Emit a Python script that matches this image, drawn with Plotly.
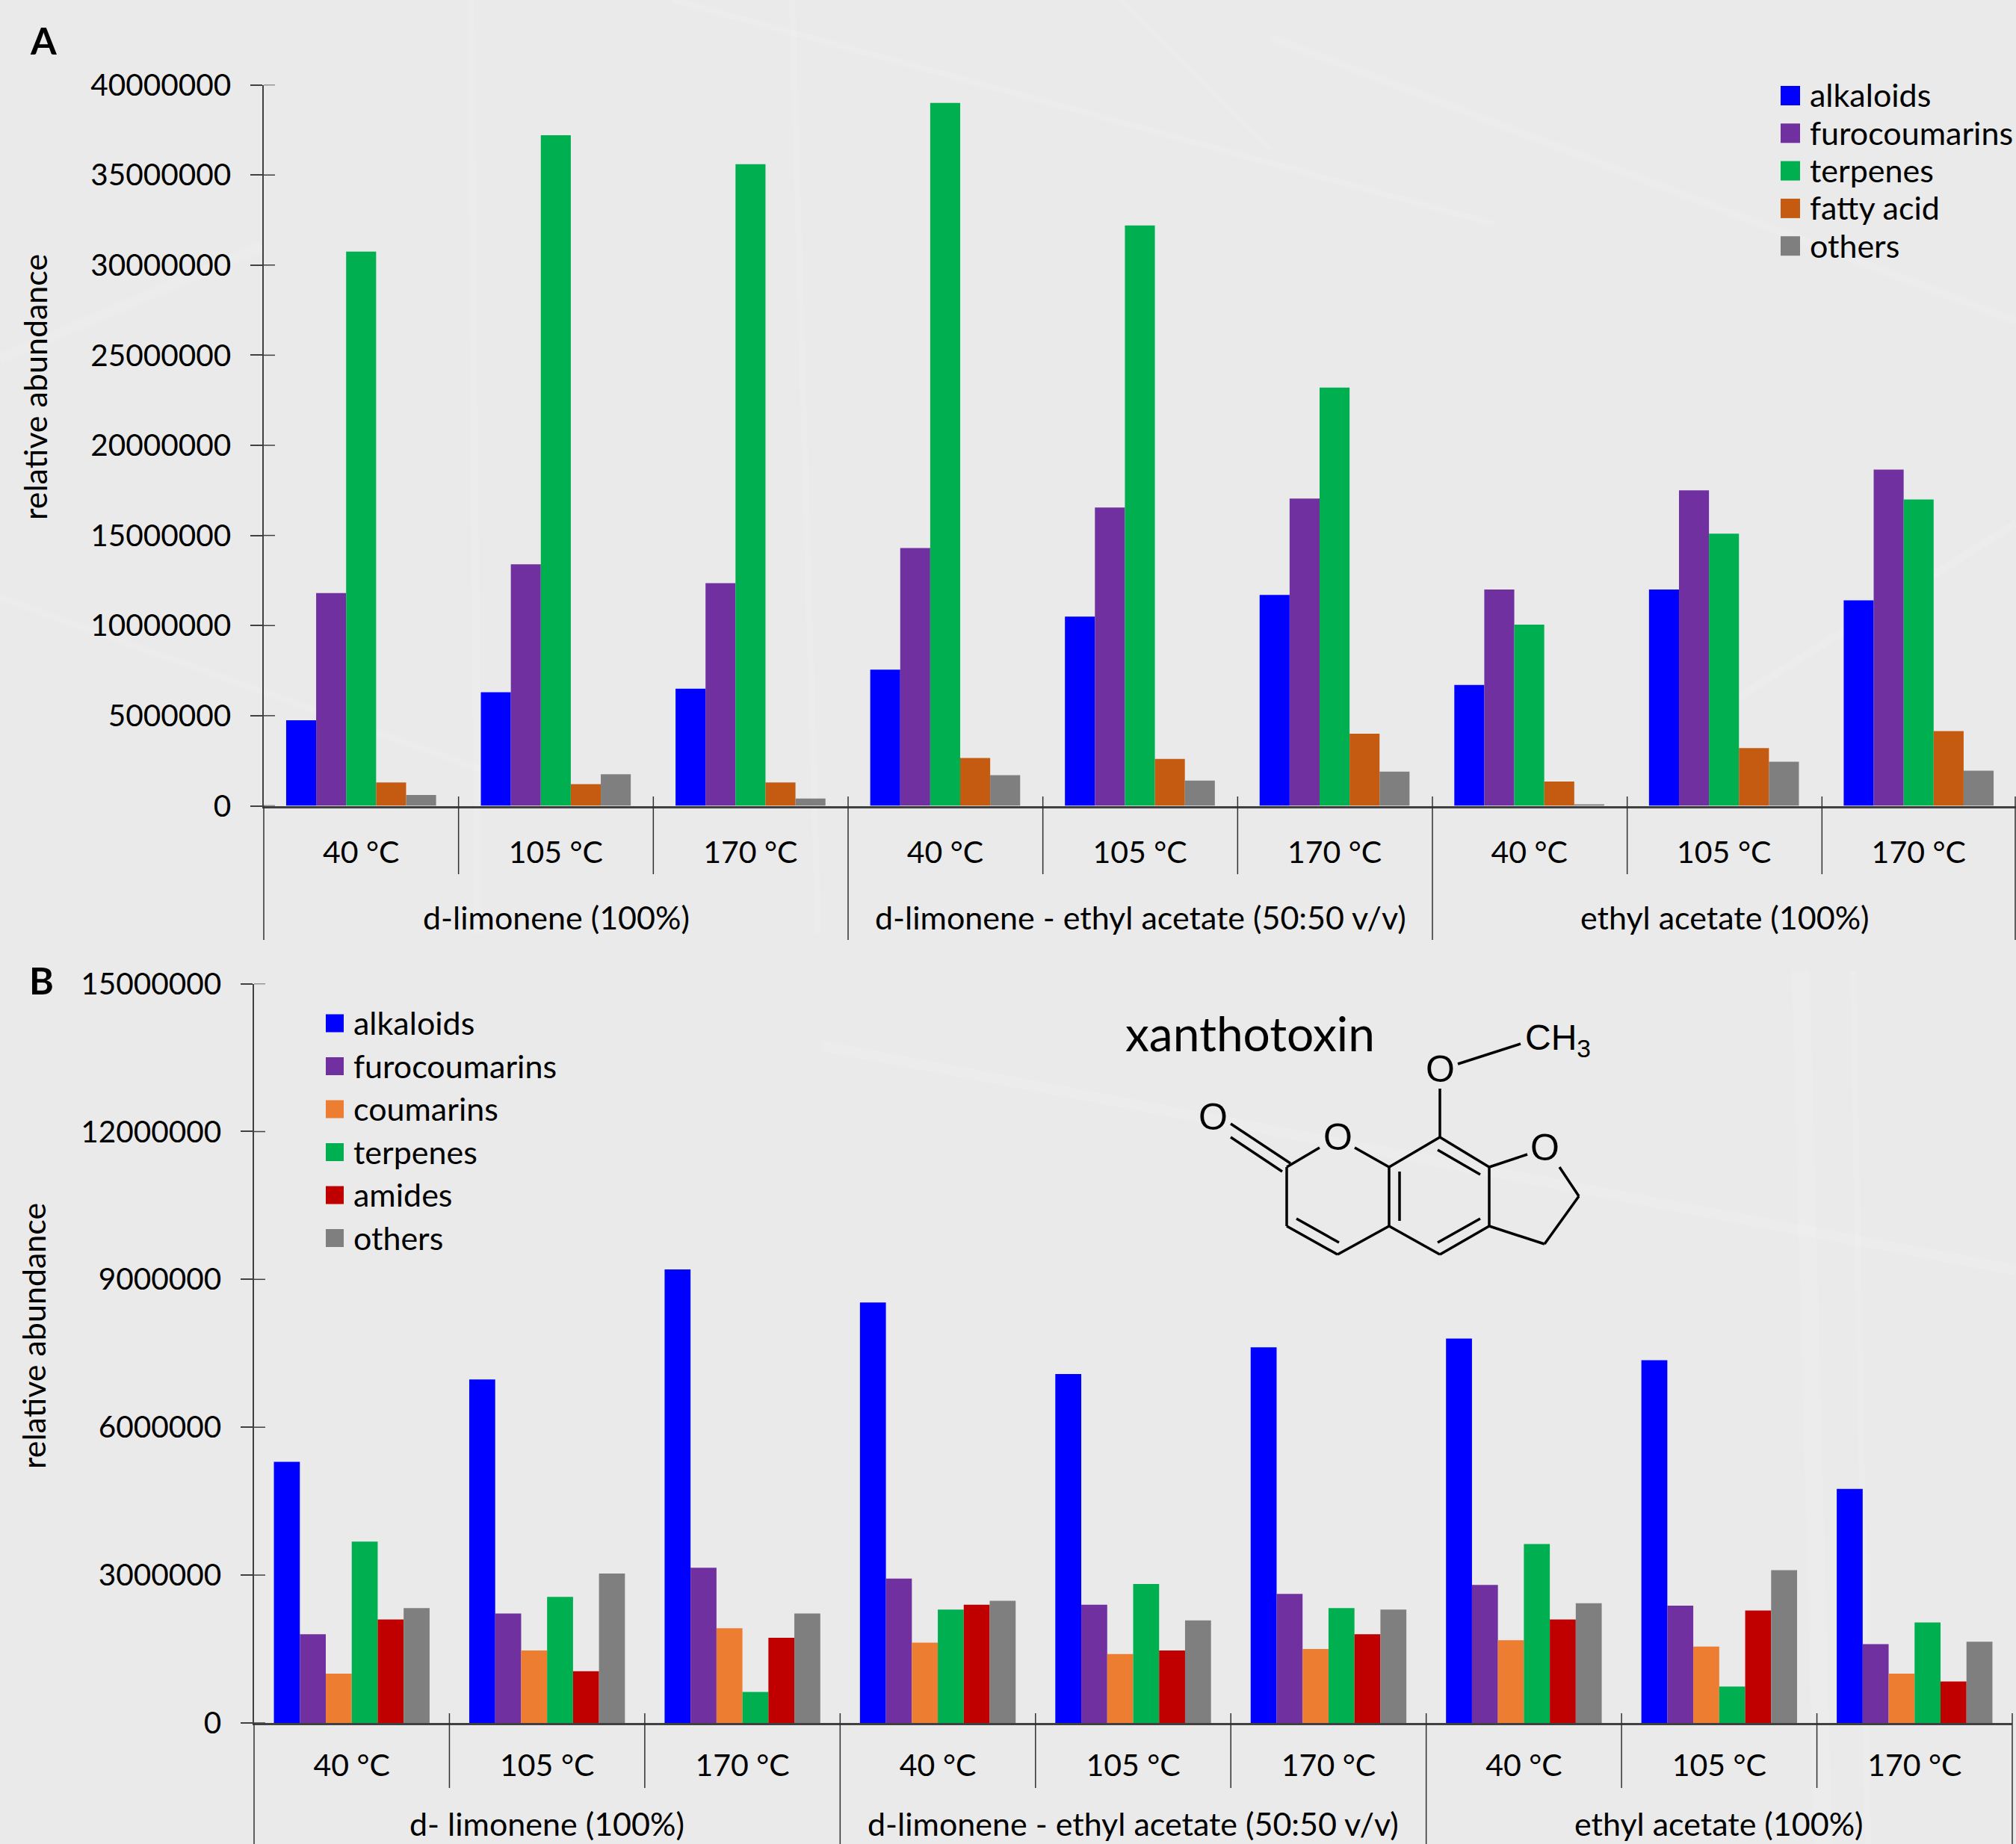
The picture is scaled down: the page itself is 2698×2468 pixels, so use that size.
import plotly.graph_objects as go

W, H = 2698, 2468
FONT = "Lato"
TEXT = "#000000"
AXIS = "#404040"
BG = "#EAEAEA"

temps = ["40 °C", "105 °C", "170 °C"] * 3
positions = list(range(9))
groups_a = ["d-limonene (100%)", "d-limonene - ethyl acetate (50:50 v/v)", "ethyl acetate (100%)"]
groups_b = ["d- limonene (100%)", "d-limonene - ethyl acetate (50:50 v/v)", "ethyl acetate (100%)"]

# Panel A
a_alkaloids = [4750000, 6300000, 6500000, 7550000, 10500000, 11700000, 6700000, 12000000, 11400000]
a_furocoumarins = [11800000, 13400000, 12350000, 14300000, 16550000, 17050000, 12000000, 17500000, 18650000]
a_terpenes = [30750000, 37200000, 35600000, 39000000, 32200000, 23200000, 10050000, 15100000, 17000000]
a_fatty_acid = [1300000, 1200000, 1300000, 2650000, 2600000, 4000000, 1350000, 3200000, 4150000]
a_others = [600000, 1750000, 400000, 1700000, 1400000, 1900000, 50000, 2450000, 1950000]

# Panel B
b_alkaloids = [5300000, 6970000, 9200000, 8530000, 7080000, 7620000, 7800000, 7360000, 4750000]
b_furocoumarins = [1800000, 2220000, 3150000, 2930000, 2400000, 2620000, 2800000, 2380000, 1600000]
b_coumarins = [1000000, 1470000, 1920000, 1630000, 1400000, 1500000, 1680000, 1550000, 1000000]
b_terpenes = [3680000, 2560000, 630000, 2300000, 2820000, 2330000, 3630000, 740000, 2040000]
b_amides = [2100000, 1050000, 1730000, 2400000, 1470000, 1800000, 2100000, 2280000, 840000]
b_others = [2330000, 3030000, 2220000, 2480000, 2080000, 2300000, 2430000, 3100000, 1650000]

series_a = [("alkaloids", a_alkaloids, "#0000FF"), ("furocoumarins", a_furocoumarins, "#7030A0"),
            ("terpenes", a_terpenes, "#00B050"), ("fatty acid", a_fatty_acid, "#C55A11"),
            ("others", a_others, "#7F7F7F")]
series_b = [("alkaloids", b_alkaloids, "#0000FF"), ("furocoumarins", b_furocoumarins, "#7030A0"),
            ("coumarins", b_coumarins, "#ED7D31"), ("terpenes", b_terpenes, "#00B050"),
            ("amides", b_amides, "#C00000"), ("others", b_others, "#7F7F7F")]

ticks_a = list(range(0, 40000001, 5000000))
ticks_b = list(range(0, 15000001, 3000000))


def px(x):
    return x / W


def py(y):
    return 1 - y / H


A = dict(left=353, right=2699, top=113.5, bottom=1078.5, ymax=40000000, fill=0.77,
         sep_top=1066, minor_bottom=1170, major_bottom=1258, group_y=1227, tick_x=24)
B = dict(left=340, right=2693, top=1316.5, bottom=2306, ymax=15000000, fill=0.797,
         sep_top=2293, minor_bottom=2393, major_bottom=2468, group_y=2440, tick_x=19)

FS_DIGIT = 40.5
FS_TEMP = 41
FS_TEXT = 43
TICK_Y = 18

fig = go.Figure()
shapes, annotations = [], []


def add_panel(series, axis_suffix, p):
    n = len(series)
    w = p["fill"] / n
    for k, (name, vals, color) in enumerate(series):
        fig.add_trace(go.Bar(x=positions, y=vals, name=name, marker=dict(color=color, line_width=0),
                             width=w, offset=-p["fill"] / 2 + k * w, showlegend=False,
                             xaxis="x" + axis_suffix, yaxis="y" + axis_suffix))


add_panel(series_a, "", A)
add_panel(series_b, "2", B)


def axes(p, tickvals, anchor):
    xa = dict(domain=[px(p["left"]), min(px(p["right"]), 1)], range=[-0.5, 8.5], tickmode="array", tickvals=positions,
              ticktext=temps, ticks="", ticklen=0, ticklabelstandoff=p["tick_x"], showgrid=False, zeroline=False,
              showline=True, linecolor=AXIS, linewidth=3, anchor=anchor[1], automargin=False,
              tickfont=dict(family=FONT, size=FS_TEMP, color=TEXT))
    ya = dict(domain=[py(p["bottom"]), py(p["top"])], range=[0, p["ymax"]], tickmode="array", tickvals=tickvals,
              ticktext=[str(t) for t in tickvals], ticks="outside", ticklen=16, tickcolor=AXIS, tickwidth=1.5,
              ticklabelstandoff=TICK_Y, showgrid=False, zeroline=False, showline=True, linecolor=AXIS, linewidth=1.5,
              anchor=anchor[0], automargin=False, tickfont=dict(family=FONT, size=FS_DIGIT, color=TEXT))
    return xa, ya


xa1, ya1 = axes(A, ticks_a, ("x", "y"))
xa2, ya2 = axes(B, ticks_b, ("x2", "y2"))


def line(x0, y0, x1, y1, color=AXIS, width=1.5, layer="above"):
    shapes.append(dict(type="line", xref="paper", yref="paper", x0=px(x0), x1=px(x1), y0=py(y0), y1=py(y1),
                       line=dict(color=color, width=width), layer=layer))


def text(s, x, y, size=FS_TEXT, anchor="center", angle=0, family=FONT, color=TEXT):
    annotations.append(dict(text=s, x=px(x), y=py(y), xref="paper", yref="paper", showarrow=False,
                            xanchor=anchor, yanchor="middle", textangle=angle,
                            font=dict(family=family, size=size, color=color)))


# Faint background streaks
streaks = [(630, 0, 640, 1250, 10), (1060, 0, 1095, 1250, 8), (1500, 0, 1700, 200, 6), (2410, 1300, 2440, 2468, 24),
           (0, 480, 350, 330, 14), (1700, 50, 2698, 430, 10), (900, 0, 2000, 300, 8), (0, 800, 700, 1050, 8),
           (2300, 950, 2698, 700, 10), (1100, 1400, 2698, 1700, 14), (2480, 1300, 2500, 2468, 8)]
for x0, y0, x1, y1, w in streaks:
    line(x0, y0, x1, y1, color="rgba(255,255,255,0.13)", width=w, layer="below")


def decorate(p, groups, ticks, ref):
    step = (p["right"] - p["left"]) / 9
    for i in range(10):
        x = min(p["left"] + i * step, W - 1)
        major = i % 3 == 0
        line(x, p["sep_top"] if i else p["bottom"], x, p["major_bottom"] if major else p["minor_bottom"], color="#303030")
    for j, g in enumerate(groups):
        text(g, p["left"] + (3 * j + 1.5) * step, p["group_y"])
    # inner half of the crossing y ticks
    for t in ticks:
        shapes.append(dict(type="line", xref="paper", yref=ref, x0=px(p["left"]), x1=px(p["left"] + 15), y0=t, y1=t,
                           line=dict(color=AXIS, width=1.5)))


decorate(A, groups_a, ticks_a, "y")
decorate(B, groups_b, ticks_b, "y2")

text("relative abundance", 46, 518, angle=-90)
text("relative\u00a0abundance", 44, 1788, angle=-90)
text("<b>A</b>", 58, 54, size=50)
text("<b>B</b>", 55, 1312, size=50)


def legend(series, sw_x, sw_size, text_x, y0, dy):
    for k, (name, _, color) in enumerate(series):
        y = y0 + k * dy
        shapes.append(dict(type="rect", xref="paper", yref="paper", x0=px(sw_x), x1=px(sw_x + sw_size),
                           y0=py(y - sw_size / 2), y1=py(y + sw_size / 2), fillcolor=color, line_width=0))
        text(name, text_x, y - 1, anchor="left")


legend(series_a, 2383, 26, 2420, 128, 50.3)
legend(series_b, 436, 24, 471, 1369.5, 57.5)

# Molecule drawing (xanthotoxin)
bonds = [((1722, 1562), (1722, 1641)), ((1722, 1641), (1790, 1679)), ((1735, 1631), (1792, 1663)),
         ((1790, 1679), (1859, 1641)), ((1859, 1641), (1859, 1562)), ((1873, 1634), (1873, 1568)),
         ((1859, 1562), (1813, 1536)), ((1766, 1536), (1722, 1562)), ((1727, 1557), (1647, 1504)),
         ((1716, 1568), (1647, 1522)), ((1859, 1562), (1927, 1522)), ((1927, 1522), (1993, 1562)),
         ((1924, 1539), (1981, 1572)), ((1993, 1562), (1993, 1641)), ((1993, 1641), (1927, 1679)),
         ((1981, 1631), (1924, 1663)), ((1927, 1679), (1859, 1641)), ((1993, 1562), (2044, 1545)),
         ((2087, 1562), (2113, 1601)), ((2113, 1601), (2067, 1665)), ((2067, 1665), (1993, 1641)),
         ((1927, 1522), (1927, 1457)), ((1951, 1424), (2035, 1397))]
for (x0, y0), (x1, y1) in bonds:
    line(x0, y0, x1, y1, color="#000000", width=3.5)
for (x, y) in [(1623, 1495), (1790, 1522), (2067, 1536), (1927, 1431)]:
    text("O", x, y, size=50, family="Liberation Sans", color="#000000")
text("CH<sub>3</sub>", 2039, 1392, size=48, anchor="left", family="Liberation Sans", color="#000000")
text("xanthotoxin", 1673, 1382, size=64, color="#000000")

fig.update_layout(
    width=W, height=H, autosize=False, margin=dict(l=0, r=0, t=0, b=0, pad=0),
    paper_bgcolor=BG, plot_bgcolor="rgba(0,0,0,0)", barmode="group", showlegend=False,
    xaxis=xa1, yaxis=ya1, xaxis2=xa2, yaxis2=ya2, shapes=shapes, annotations=annotations,
    font=dict(family=FONT, size=FS_TEXT, color=TEXT),
)
fig.write_html("out.html", config=dict(displayModeBar=False),
               post_script="document.body.style.margin='0';document.body.style.background='#EAEAEA';")
